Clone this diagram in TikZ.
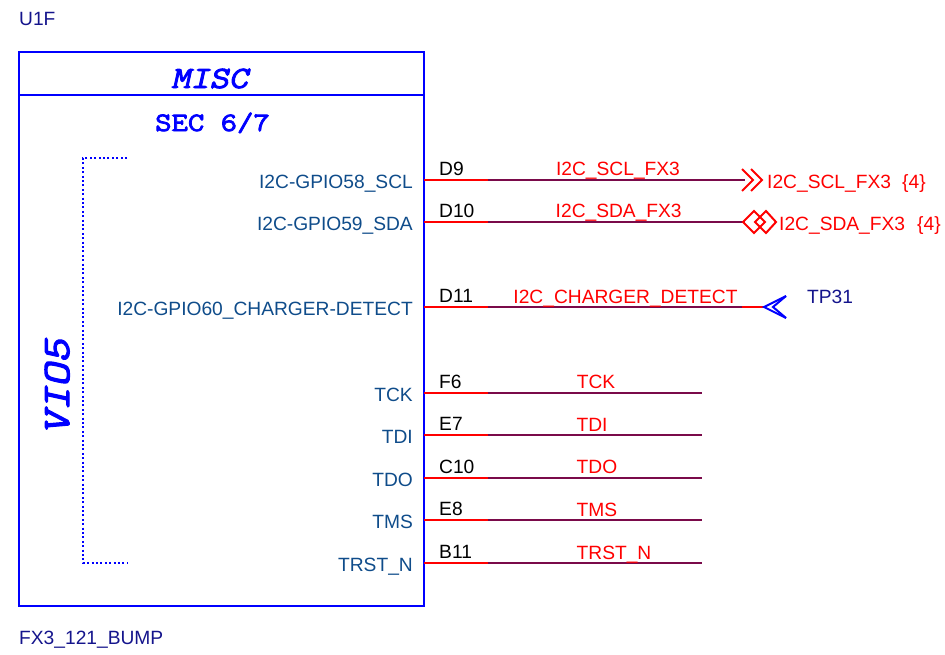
\documentclass[tikz,border=0pt]{standalone}
\usepackage{fontspec}
\setmainfont{Liberation Sans}
\newfontfamily\headslant[FakeBold=3,FakeSlant=0.22,FakeStretch=1.2]{Latin Modern Mono}
\newfontfamily\headup[FakeBold=3,FakeStretch=1.2]{Latin Modern Mono}
\definecolor{maroonnet}{HTML}{7A0A4A}
\definecolor{pinname}{HTML}{0F4C8A}
\definecolor{refblue}{HTML}{14148C}
\definecolor{boxblue}{HTML}{0000FF}
\tikzset{
  txt/.style={inner sep=0pt,font=\fontsize{19.2}{22}\selectfont},
  pinlabel/.style={txt,anchor=base east,text=pinname},
  pinnum/.style={txt,anchor=base west,text=black},
  netlabel/.style={txt,anchor=base,text=red},
  offpage/.style={txt,anchor=base west,text=red},
  reflabel/.style={txt,anchor=base west,text=refblue},
  stub/.style={draw=red,line width=2pt},
  net/.style={draw=maroonnet,line width=2pt},
  boxline/.style={draw=boxblue,line width=2.6pt},
  dotline/.style={draw=boxblue,line width=2pt,dash pattern=on 2pt off 2.4pt},
  flag/.style={draw=red,line width=2pt},
  tp/.style={draw=boxblue,line width=2pt},
  heading/.style={inner sep=0pt,text=boxblue}
}
\begin{document}
\begin{tikzpicture}[x=1pt,y=-1pt]
\useasboundingbox (0,0) rectangle (945,654);
% body
\node[reflabel] (refdes) at (19,25) {U1F};
\node[reflabel] (part) at (19,644) {FX3\_121\_BUMP};
\coordinate (tl) at (19,52);
\coordinate (br) at (424,606);
\draw[boxline] (tl) rectangle (br);
\coordinate (hl) at (19,95);
\coordinate (hr) at (424,95);
\draw[boxline] (hl) -- (hr);
\node[heading,anchor=base,font=\headslant\fontsize{31}{34}\selectfont] (misc) at (209.5,88) {MISC};
\node[heading,anchor=base,font=\headup\fontsize{26.5}{29}\selectfont] (sec) at (212.5,131) {SEC 6/7};
\coordinate (b1) at (127,158);
\coordinate (b2) at (83,158);
\coordinate (b3) at (83,563);
\coordinate (b4) at (127,563);
\draw[dotline] (b1) -- (b2) -- (b3) -- (b4);
\node[heading,rotate=90,anchor=base,font=\headslant\fontsize{38.8}{42}\selectfont] (vio) at (69,387) {VIO5};
% pins
\foreach \n/\y/\pin/\num/\netname/\endx in {
  a/180/I2C-GPIO58\_SCL/D9/I2C\_SCL\_FX3/745,
  b/222/I2C-GPIO59\_SDA/D10/I2C\_SDA\_FX3/745,
  c/307/I2C-GPIO60\_CHARGER-DETECT/D11/I2C\_CHARGER\_DETECT/742,
  d/393/TCK/F6/TCK/702,
  e/435/TDI/E7/TDI/702,
  f/478/TDO/C10/TDO/702,
  g/520/TMS/E8/TMS/702,
  h/563/TRST\_N/B11/TRST\_N/702}{
  \coordinate (p\n) at (424,\y);
  \coordinate (m\n) at (488,\y);
  \coordinate (e\n) at (\endx,\y);
  \draw[stub] (p\n) -- (m\n);
  \draw[net] (m\n) -- (e\n);
  \node[pinlabel] (pl\n) at (413,\y+8) {\pin};
  \node[pinnum] (pn\n) at (439,\y-5) {\num};
}
\node[netlabel] (na) at (618,175) {I2C\_SCL\_FX3};
\node[netlabel] (nb) at (618.7,217.5) {I2C\_SDA\_FX3};
\node[netlabel] (nc) at (625.5,303) {I2C\_CHARGER\_DETECT};
\node[netlabel] (nd) at (596,388) {TCK};
\node[netlabel] (ne) at (592,431) {TDI};
\node[netlabel] (nf) at (597,473.5) {TDO};
\node[netlabel] (ng) at (597,516) {TMS};
\node[netlabel] (nh) at (614,559) {TRST\_N};
% off-page flags
\coordinate (s1) at (742,169); \coordinate (s2) at (753,180); \coordinate (s3) at (742,191);
\coordinate (s4) at (751,169); \coordinate (s5) at (762,180); \coordinate (s6) at (751,191);
\draw[flag] (s1) -- (s2) -- (s3);
\draw[flag] (s4) -- (s5) -- (s6);
\node[offpage] (oa) at (767,188) {I2C\_SCL\_FX3};
\node[offpage] (oa4) at (902,188) {\{4\}};
\coordinate (d1) at (743,222); \coordinate (d2) at (754,211); \coordinate (d3) at (765,222); \coordinate (d4) at (754,233);
\coordinate (d5) at (755,222); \coordinate (d6) at (766,211); \coordinate (d7) at (776,222); \coordinate (d8) at (766,233);
\draw[flag] (d1) -- (d2) -- (d3) -- (d4) -- cycle;
\draw[flag] (d5) -- (d6) -- (d7) -- (d8) -- cycle;
\node[offpage] (ob) at (779,230) {I2C\_SDA\_FX3};
\node[offpage] (ob4) at (917,230) {\{4\}};
% test point
\coordinate (t0) at (764,307);
\draw[stub] (ec) -- (t0);
\coordinate (t1) at (786,296); \coordinate (t2) at (773,307); \coordinate (t3) at (786,318);
\draw[tp] (t1) -- (t0) -- (t3);
\draw[tp] (t1) -- (t2) -- (t3);
\node[reflabel] (tpl) at (807,303) {TP31};
\end{tikzpicture}
\end{document}
